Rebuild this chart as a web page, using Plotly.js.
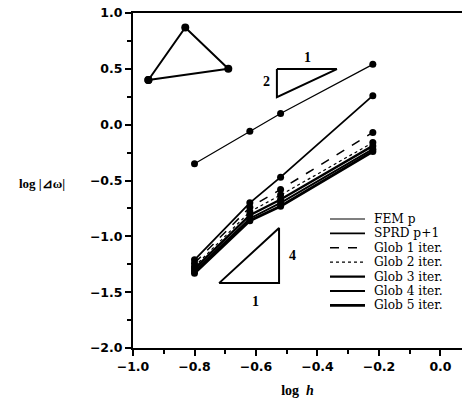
<!DOCTYPE html>
<html>
<head>
<meta charset="utf-8">
<script src="https://cdn.plot.ly/plotly-3.0.1.min.js"></script>
<style>html,body{margin:0;padding:0;background:#fff;}</style>
</head>
<body>
<div id="chart" style="width:462px;height:404px;"></div>
<script>
// log h values (mesh sizes)
const logH = [-0.80, -0.62, -0.52, -0.22];
// series: log |Δω|
const seriesNames = ["FEM p", "SPRD p+1", "Glob 1 iter.", "Glob 2 iter.", "Glob 3 iter.", "Glob 4 iter.", "Glob 5 iter."];
const femP    = [-0.35, -0.06, 0.10, 0.54];
const sprd    = [-1.21, -0.70, -0.47, 0.26];
const glob1   = [-1.24, -0.74, -0.58, -0.07];
const glob2   = [-1.27, -0.78, -0.63, -0.16];
const glob3   = [-1.29, -0.81, -0.67, -0.19];
const glob4   = [-1.31, -0.84, -0.70, -0.22];
const glob5   = [-1.33, -0.86, -0.73, -0.24];
const seriesValues = [femP, sprd, glob1, glob2, glob3, glob4, glob5];

// decorations: element sketch and slope triangles (data coordinates)
const elemX = [-0.95, -0.83, -0.69, -0.95];
const elemY = [0.40, 0.87, 0.50, 0.40];
const slope2X = [-0.532, -0.337, -0.532, -0.532];
const slope2Y = [0.498, 0.498, 0.247, 0.498];
const slope4X = [-0.720, -0.525, -0.525, -0.720];
const slope4Y = [-1.419, -1.419, -0.926, -1.419];

const styles = [
  {width: 1.2, dash: "solid"},
  {width: 1.8, dash: "solid"},
  {width: 1.5, dash: "dash"},
  {width: 1.2, dash: "dot"},
  {width: 2.4, dash: "solid"},
  {width: 2.0, dash: "solid"},
  {width: 2.8, dash: "solid"}
];

const traces = seriesValues.map((vals, i) => ({
  x: logH, y: vals, name: seriesNames[i], type: "scatter", mode: "lines+markers",
  showlegend: false,
  line: {color: "#000", width: styles[i].width, dash: styles[i].dash},
  marker: {color: "#000", size: 7, symbol: "circle"}
}));

traces.push({x: elemX, y: elemY, mode: "lines+markers", showlegend: false, hoverinfo: "skip",
  line: {color: "#000", width: 2}, marker: {color: "#000", size: 8}});
traces.push({x: slope2X, y: slope2Y, mode: "lines", showlegend: false, hoverinfo: "skip",
  line: {color: "#000", width: 2}});
traces.push({x: slope4X, y: slope4Y, mode: "lines", showlegend: false, hoverinfo: "skip",
  line: {color: "#000", width: 2}});

const tickFont = {family: "DejaVu Sans, Arial, sans-serif", size: 12.5, color: "#000", weight: "bold"};
const serif = "Liberation Serif, Times New Roman, serif";

// manual legend (paper coordinates): plot area is 329 x 335 px starting at (133, 13)
const W = 329, H = 335, L = 133, T = 13;
const px = v => (v - L) / W;
const py = v => 1 - (v - T) / H;
const legendShapes = [], legendAnn = [];
seriesNames.forEach((name, i) => {
  const yy = 219 + i * 14.4;
  legendShapes.push({type: "line", xref: "paper", yref: "paper",
    x0: px(330), x1: px(365), y0: py(yy), y1: py(yy),
    line: {color: "#000", width: styles[i].width, dash: styles[i].dash}});
  legendAnn.push({xref: "paper", yref: "paper", x: px(373), y: py(yy), text: name,
    showarrow: false, xanchor: "left", yanchor: "middle", borderpad: 0,
    font: {family: "DejaVu Serif, serif", size: 12.2, color: "#000"}});
});

const layout = {
  width: 462, height: 404,
  margin: {l: 133, r: 0, t: 13, b: 56},
  paper_bgcolor: "#fff", plot_bgcolor: "#fff",
  showlegend: false,
  xaxis: {range: [-1.0, 0.07], showgrid: false, zeroline: false,
    showline: true, linecolor: "#000", linewidth: 2, mirror: true,
    ticks: "outside", ticklen: 6, tickwidth: 2, tickcolor: "#000",
    tickvals: [-1.0, -0.8, -0.6, -0.4, -0.2, 0.0], ticktext: ["−1.0", "−0.8", "−0.6", "−0.4", "−0.2", "0.0"],
    minor: {tickvals: [-0.9, -0.7, -0.5, -0.3, -0.1], ticks: "outside", ticklen: 4, tickwidth: 2, tickcolor: "#000"},
    tickfont: tickFont,
    title: {text: "log  <i>h</i>", font: {family: serif, size: 14, color: "#000", weight: "bold"}, standoff: 12}
  },
  yaxis: {range: [-2.0, 1.0], showgrid: false, zeroline: false,
    showline: true, linecolor: "#000", linewidth: 2, mirror: false,
    ticks: "outside", ticklen: 6, tickwidth: 2, tickcolor: "#000",
    tickvals: [1.0, 0.5, 0.0, -0.5, -1.0, -1.5, -2.0], ticktext: ["1.0", "0.5", "0.0", "−0.5", "−1.0", "−1.5", "−2.0"],
    minor: {tickvals: [0.75, 0.25, -0.25, -0.75, -1.25, -1.75], ticks: "outside", ticklen: 4, tickwidth: 2, tickcolor: "#000"},
    tickfont: tickFont
  },
  shapes: legendShapes,
  annotations: [
    {xref: "paper", yref: "paper", x: px(42), y: py(183), text: "log |⊿ω|", showarrow: false,
      xanchor: "center", yanchor: "middle", font: {family: serif, size: 13, color: "#000", weight: "bold"}},
    {x: -0.434, y: 0.6, text: "1", showarrow: false, font: {family: serif, size: 14, color: "#000", weight: "bold"}},
    {x: -0.565, y: 0.39, text: "2", showarrow: false, font: {family: serif, size: 14, color: "#000", weight: "bold"}},
    {x: -0.48, y: -1.17, text: "4", showarrow: false, font: {family: serif, size: 14, color: "#000", weight: "bold"}},
    {x: -0.60, y: -1.58, text: "1", showarrow: false, font: {family: serif, size: 14, color: "#000", weight: "bold"}}
  ].concat(legendAnn)
};

Plotly.newPlot("chart", traces, layout, {displayModeBar: false, staticPlot: true});
</script>
</body>
</html>
